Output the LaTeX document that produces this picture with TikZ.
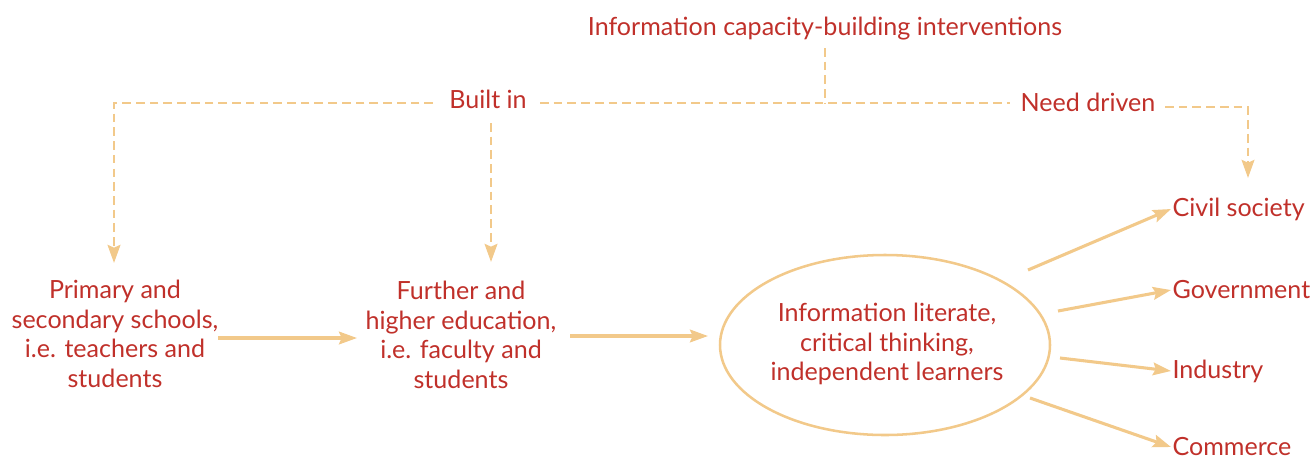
\documentclass[tikz,border=0pt]{standalone}
\usepackage{fontspec}
\setmainfont{Lato}
\usetikzlibrary{arrows.meta,shapes.geometric}
\definecolor{txt}{HTML}{C0302A}
\definecolor{ln}{HTML}{F2C98A}
\begin{document}
\begin{tikzpicture}[x=0.75pt,y=-0.75pt,
  lbl/.style={text=txt,font=\fontsize{18.8}{22.2}\selectfont,align=center,inner sep=1pt},
  tip/.style={-{Stealth[length=13.5pt,width=9.5pt,inset=2pt]}},
  arr/.style={draw=ln,line width=2.3pt,tip},
  dsh/.style={draw=ln,line width=2.2pt,dash pattern=on 6.5pt off 3.8pt}]
\useasboundingbox (0,0) rectangle (1316,461);
\node[lbl] (title) at (825,29) {Information capacity-building interventions};
\node[lbl] (built) at (488,99) {Built in};
\node[lbl] (need) at (1088,102) {Need driven};
\node[lbl] (prim) at (115,334) {Primary and\\secondary schools,\\i.e. teachers and\\students};
\node[lbl] (fur) at (461,335) {Further and\\higher education,\\i.e. faculty and\\students};
\node[draw=ln,line width=1.9pt,ellipse,minimum width=247.5pt,minimum height=135pt] (ell) at (885,345) {};
\node[lbl] (ellt) at (887,344) {Information literate,\\critical thinking,\\independent learners};
\node[lbl,anchor=west] (civ) at (1171,209) {Civil society};
\node[lbl,anchor=west] (gov) at (1171,290) {Government};
\node[lbl,anchor=west] (ind) at (1171,371) {Industry};
\node[lbl,anchor=west] (com) at (1171,447) {Commerce};
\coordinate (j) at (825,103);
\coordinate (bl) at (433,103);
\coordinate (br) at (540,103);
\coordinate (nl) at (1010,103);
\coordinate (nr) at (1165,107);
\coordinate (pTop) at (114,263);
\coordinate (fTop) at (491,262);
\coordinate (bDown) at (491,123);
\coordinate (cTop) at (1248,178);
\coordinate (pOut) at (218,338);
\coordinate (fIn) at (357,338);
\coordinate (fOut) at (570,336);
\coordinate (eIn) at (708,336);
% dashed connectors
\draw[dsh] (825,48) -- (j);
\draw[dsh,tip] (bl) -| (pTop);
\draw[dsh] (br) -- (nl);
\draw[dsh,tip] (nr) -| (cTop);
\draw[dsh,tip] (bDown) -- (fTop);
% solid arrows
\draw[arr] (pOut) -- (fIn);
\draw[arr] (fOut) -- (eIn);
\draw[arr] (1028,270) -- (civ.west);
\draw[arr] (1058,311) -- (gov.west);
\draw[arr] (1060,358) -- (ind.west);
\draw[arr] (1030,398) -- (com.west);
\end{tikzpicture}
\end{document}
